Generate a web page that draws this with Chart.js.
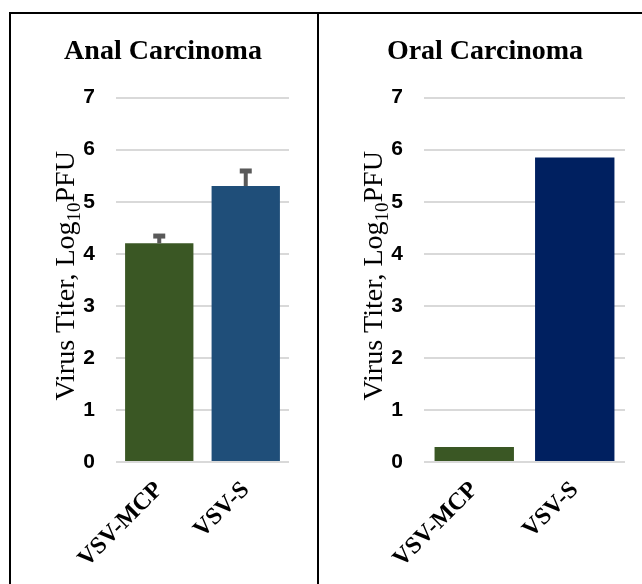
<!DOCTYPE html>
<html>
<head>
<meta charset="utf-8">
<script src="https://cdn.jsdelivr.net/npm/chart.js@4"></script>
<style>
html, body { margin: 0; padding: 0; background: #fff; }
#page { position: relative; width: 642px; height: 584px; overflow: hidden; }
.line { position: absolute; background: #000; }
canvas { position: absolute; }
</style>
</head>
<body>
<div id="page">
  <div class="line" style="left:9px;top:12px;width:633px;height:2px"></div>
  <div class="line" style="left:9px;top:12px;width:2px;height:572px"></div>
  <div class="line" style="left:317px;top:12px;width:2px;height:572px"></div>
  <canvas id="anal" width="306" height="570" style="left:11px;top:14px"></canvas>
  <canvas id="oral" width="323" height="570" style="left:319px;top:14px"></canvas>
</div>
<script>
// data
const categories = ["VSV-MCP", "VSV-S"];
const analTiter = [4.2, 5.3];
const analErr = [0.15, 0.3];
const oralTiter = [0.29, 5.85];
const yMin = 0, yMax = 7, yStep = 1;
const analColors = ["#3a5724", "#1f4e79"];
const oralColors = ["#3a5724", "#002060"];

// rotated y title with the subscript "10"
const yTitlePlugin = {
    id: "yTitle",
    afterDraw(chart, args, opts) {
        const ctx = chart.ctx, area = chart.chartArea;
        const parts = [
            ["Virus Titer, Log", "28px 'Liberation Serif'", 0],
            ["10", "19px 'Liberation Serif'", 6],
            ["PFU", "28px 'Liberation Serif'", 0],
        ];
        ctx.save();
        let total = 0;
        parts.forEach(function (p) {
            ctx.font = p[1];
            p.push(ctx.measureText(p[0]).width);
            total += p[3];
        });
        ctx.translate(opts.x, (area.top + area.bottom) / 2 - 4);
        ctx.rotate(-Math.PI / 2);
        ctx.fillStyle = "#000";
        ctx.textAlign = "left";
        ctx.textBaseline = "alphabetic";
        let x = -total / 2;
        parts.forEach(function (p) {
            ctx.font = p[1];
            ctx.fillText(p[0], x, p[2]);
            x += p[3];
        });
        ctx.restore();
    },
};

// upper error bars only
const errorBarPlugin = {
    id: "errorBars",
    afterDatasetsDraw(chart, args, opts) {
        if (!opts.errors) return;
        const ctx = chart.ctx, y = chart.scales.y;
        const meta = chart.getDatasetMeta(0);
        const vals = chart.data.datasets[0].data;
        ctx.save();
        ctx.fillStyle = "#595959";
        meta.data.forEach(function (bar, i) {
            const top = y.getPixelForValue(vals[i] + opts.errors[i]);
            ctx.fillRect(bar.x - 2, top, 4, bar.y - top);
            ctx.fillRect(bar.x - 6, top - 2, 12, 5);
        });
        ctx.restore();
    },
};

function makeChart(id, title, values, colors, errors, padRight) {
    return new Chart(document.getElementById(id), {
        type: "bar",
        data: {
            labels: categories,
            datasets: [{
                data: values,
                backgroundColor: colors,
                borderWidth: 0,
                categoryPercentage: 0.79,
                barPercentage: 1.0,
            }],
        },
        options: {
            responsive: false,
            animation: false,
            layout: { padding: { left: 26, right: padRight, top: 0, bottom: 0 } },
            plugins: {
                legend: { display: false },
                tooltip: { enabled: false },
                title: {
                    display: true,
                    text: title,
                    color: "#000",
                    font: { family: "'Liberation Serif'", size: 28, weight: "bold", lineHeight: 1.2 },
                    padding: { top: 21, bottom: 29 },
                },
                yTitle: { x: 63 },
                errorBars: { errors: errors },
            },
            scales: {
                x: {
                    grid: { display: false },
                    border: { display: false },
                    ticks: {
                        color: "#000",
                        maxRotation: 45,
                        minRotation: 45,
                        padding: 6,
                        font: { family: "'Liberation Serif'", size: 24, weight: "bold" },
                    },
                    afterFit(scale) { scale.height = 122; },
                },
                y: {
                    min: yMin,
                    max: yMax,
                    grid: { color: "#d9d9d9", lineWidth: 2, drawTicks: false },
                    border: { display: false },
                    ticks: {
                        stepSize: yStep,
                        color: "#000",
                        padding: 21,
                        font: { family: "'Liberation Sans'", size: 21, weight: "bold" },
                    },
                    afterFit(scale) { scale.width = 79; },
                },
            },
        },
        plugins: [yTitlePlugin, errorBarPlugin],
    });
}

makeChart("anal", "Anal Carcinoma", analTiter, analColors, analErr, 28);
makeChart("oral", "Oral Carcinoma", oralTiter, oralColors, null, 17);
</script>
</body>
</html>
